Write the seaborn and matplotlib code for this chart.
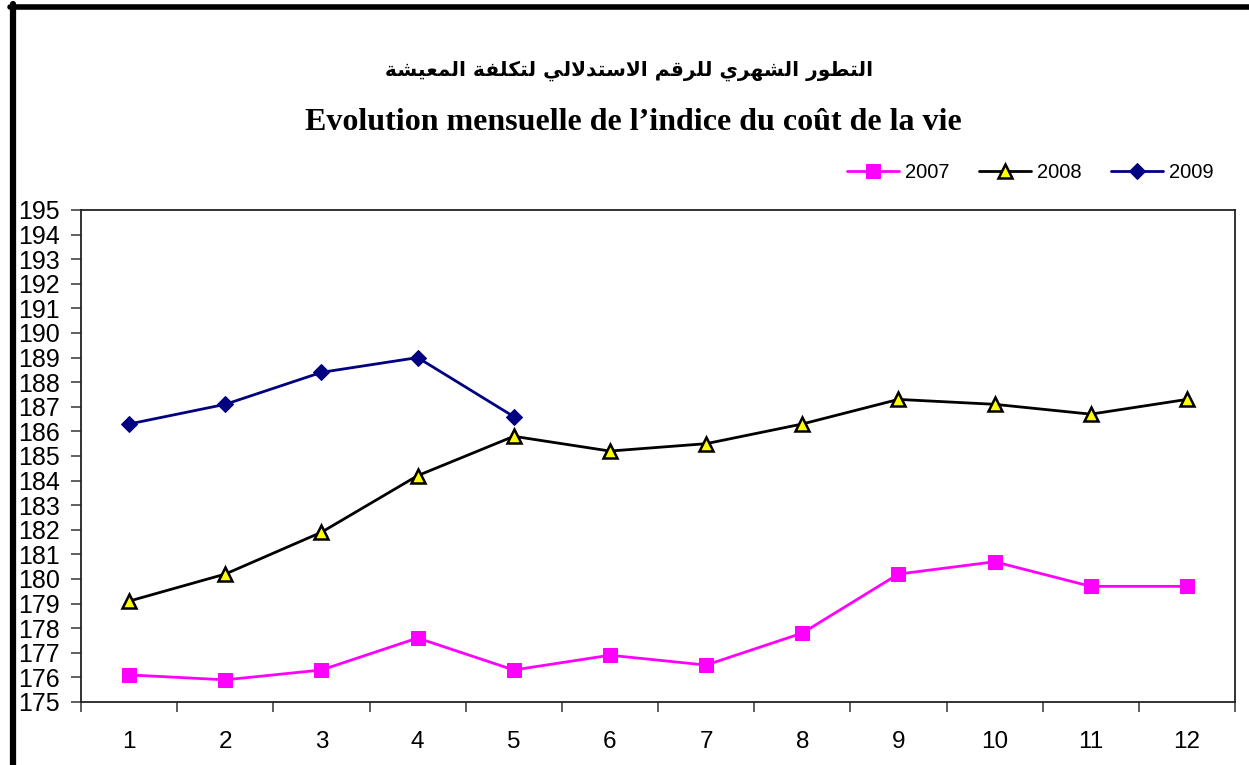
import pandas as pd
import matplotlib
matplotlib.use("Agg")
import matplotlib.pyplot as plt
from matplotlib.lines import Line2D
import seaborn as sns

# Data
months = [1, 2, 3, 4, 5, 6, 7, 8, 9, 10, 11, 12]
idx_2007 = [176.1, 175.9, 176.3, 177.6, 176.3, 176.9, 176.5, 177.8, 180.2, 180.7, 179.7, 179.7]
idx_2008 = [179.1, 180.2, 181.9, 184.2, 185.8, 185.2, 185.5, 186.3, 187.3, 187.1, 186.7, 187.3]
idx_2009 = [186.3, 187.1, 188.4, 189.0, 186.6]
y_ticks = list(range(175, 196))

title_ar = "التطور الشهري للرقم الاستدلالي لتكلفة المعيشة"
title_fr = "Evolution mensuelle de l\u2019indice du coût de la vie"

# Arabic presentation forms: isolated, final, initial, medial
FORMS = {
    "ا": ("\uFE8D", "\uFE8E", None, None),
    "ة": ("\uFE93", "\uFE94", None, None),
    "ت": ("\uFE95", "\uFE96", "\uFE97", "\uFE98"),
    "د": ("\uFEA9", "\uFEAA", None, None),
    "ر": ("\uFEAD", "\uFEAE", None, None),
    "س": ("\uFEB1", "\uFEB2", "\uFEB3", "\uFEB4"),
    "ش": ("\uFEB5", "\uFEB6", "\uFEB7", "\uFEB8"),
    "ط": ("\uFEC1", "\uFEC2", "\uFEC3", "\uFEC4"),
    "ع": ("\uFEC9", "\uFECA", "\uFECB", "\uFECC"),
    "ف": ("\uFED1", "\uFED2", "\uFED3", "\uFED4"),
    "ق": ("\uFED5", "\uFED6", "\uFED7", "\uFED8"),
    "ك": ("\uFED9", "\uFEDA", "\uFEDB", "\uFEDC"),
    "ل": ("\uFEDD", "\uFEDE", "\uFEDF", "\uFEE0"),
    "م": ("\uFEE1", "\uFEE2", "\uFEE3", "\uFEE4"),
    "ه": ("\uFEE9", "\uFEEA", "\uFEEB", "\uFEEC"),
    "و": ("\uFEED", "\uFEEE", None, None),
    "ي": ("\uFEF1", "\uFEF2", "\uFEF3", "\uFEF4"),
    "لا": ("\uFEFB", "\uFEFC", None, None),
}


def shape_arabic(text):
    # matplotlib has no Arabic shaping, so join letters and reverse by hand
    tokens = []
    i = 0
    while i < len(text):
        if text[i] == "ل" and i + 1 < len(text) and text[i + 1] == "ا":
            tokens.append("لا")
            i += 2
        else:
            tokens.append(text[i])
            i += 1
    out = []
    for k, t in enumerate(tokens):
        if t not in FORMS:
            out.append(t)
            continue
        prev = tokens[k - 1] if k > 0 else None
        nxt = tokens[k + 1] if k + 1 < len(tokens) else None
        iso, fin, ini, med = FORMS[t]
        jp = prev in FORMS and FORMS[prev][2] is not None
        jn = ini is not None and nxt in FORMS
        if jp and jn:
            out.append(med)
        elif jp:
            out.append(fin)
        elif jn:
            out.append(ini)
        else:
            out.append(iso)
    return "".join(reversed(out))


sns.set_style("ticks")
plt.rcParams["font.family"] = ["Liberation Sans", "DejaVu Sans"]
plt.rcParams["text.color"] = "black"
plt.rcParams["xtick.labelcolor"] = "black"
plt.rcParams["ytick.labelcolor"] = "black"

fig = plt.figure(figsize=(12.49, 7.65), dpi=100)
ax = fig.add_axes([0.0649, 0.0824, 0.9239, 0.6431])

sns.lineplot(x=months, y=idx_2007, ax=ax, color="#FF00FF", lw=2, marker="s",
             markersize=10, markerfacecolor="#FF00FF", markeredgecolor="#FF00FF",
             label="2007")
sns.lineplot(x=months, y=idx_2008, ax=ax, color="black", lw=2, marker="^",
             markersize=10, markerfacecolor="#FFFF00", markeredgecolor="black",
             markeredgewidth=1.8, label="2008")
sns.lineplot(x=months[:len(idx_2009)], y=idx_2009, ax=ax, color="#000080", lw=2,
             marker="D", markersize=8.5, markerfacecolor="#000080",
             markeredgecolor="#000080", label="2009")

ax.set_xlim(0.5, 12.5)
ax.set_ylim(175, 195)
ax.set_yticks(y_ticks)
ax.set_xticks(months)
ax.set_xticklabels([str(m) for m in months])
ax.set_xticks([m - 0.5 for m in months] + [12.5], minor=True)
ax.tick_params(axis="x", which="major", length=0, pad=21, labelsize=17.5)
ax.tick_params(axis="x", which="minor", length=7, width=1.2, color="#444444")
ax.tick_params(axis="y", length=7, width=1.2, color="#444444", pad=8, labelsize=18)
for s in ax.spines.values():
    s.set_visible(True)
    s.set_linewidth(1.3)
    s.set_color("#222222")
ax.set_xlabel("")
ax.set_ylabel("")

ax.legend(loc="center right", bbox_to_anchor=(0.9865, 0.774),
          bbox_transform=fig.transFigure, ncol=3, frameon=False, fontsize=14.5,
          handlelength=2.6, columnspacing=1.45, handletextpad=0.3)

fig.text(0.504, 0.908, shape_arabic(title_ar), ha="center", va="center",
         fontsize=14.5, fontweight="bold", family=["DejaVu Sans"])
fig.text(0.5075, 0.84, title_fr, ha="center", va="center", fontsize=23,
         fontweight="bold", family=["Liberation Serif", "DejaVu Serif"])

# frame border around the chart area
fig.add_artist(Line2D([10 / 1249, 1], [1 - 6.5 / 765, 1 - 6.5 / 765],
                      transform=fig.transFigure, color="black", lw=4))
fig.add_artist(Line2D([13 / 1249, 13 / 1249], [0, 1 - 4 / 765],
                      transform=fig.transFigure, color="black", lw=4.5))

fig.savefig("out.png", dpi=100)
